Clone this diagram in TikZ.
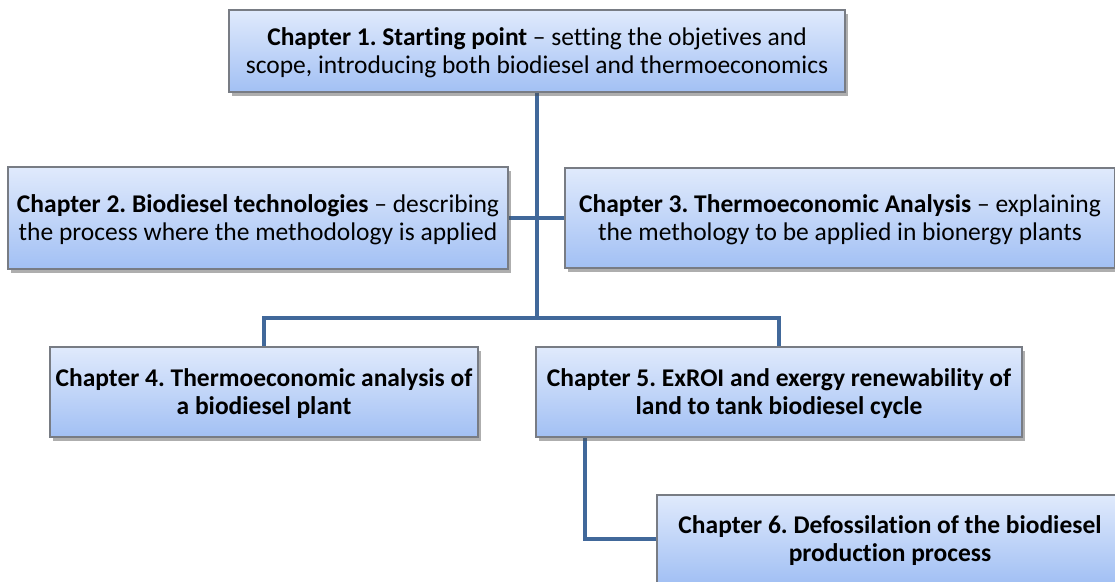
\documentclass[tikz,border=0pt]{standalone}
\usepackage{fontspec}
\setmainfont[Ligatures=NoCommon]{Carlito}
\usetikzlibrary{shadows,backgrounds}
\definecolor{boxtop}{RGB}{224,234,252}
\definecolor{boxbot}{RGB}{162,192,244}
\definecolor{boxedge}{RGB}{120,124,132}
\definecolor{link}{RGB}{65,104,154}
% two centred lines, set a little below the middle of the box
\newcommand{\twolines}[2]{\raisebox{-2.5pt}[\height][\depth]{\begin{tabular}{@{}c@{}}#1\\#2\end{tabular}}}
\tikzset{
  chapbox/.style={draw=boxedge, line width=1.2pt, top color=boxtop, bottom color=boxbot,
    inner sep=0pt, font=\fontsize{25.5}{28}\selectfont,
    drop shadow={shadow xshift=3pt, shadow yshift=-3.5pt, opacity=0.45, fill=black!70}},
  linkline/.style={draw=link, line width=4pt}
}
\frenchspacing
\begin{document}
\begin{tikzpicture}[x=1pt,y=-1pt]
\useasboundingbox (0,0) rectangle (1115,581);
\clip (0,0) rectangle (1115,581);

\node[chapbox, minimum width=616pt, minimum height=82pt] (b1) at (537,51)
  {\twolines{\textbf{Chapter 1. Starting point} -- setting the objetives and}{scope, introducing both biodiesel and thermoeconomics}};
\node[chapbox, minimum width=500pt, minimum height=102pt] (b2) at (258,218)
  {\twolines{\textbf{Chapter 2. Biodiesel technologies} -- describing}{the process where the methodology is applied}};
\node[chapbox, minimum width=550pt, minimum height=100pt] (b3) at (840,218)
  {\twolines{\textbf{Chapter 3. Thermoeconomic Analysis} -- explaining}{the methology to be applied in bionergy plants}};
\node[chapbox, minimum width=428pt, minimum height=90pt] (b4) at (264,392)
  {\twolines{\textbf{Chapter 4. Thermoeconomic analysis of}}{\textbf{a biodiesel plant}}};
\node[chapbox, minimum width=486pt, minimum height=90pt] (b5) at (779,392)
  {\twolines{\textbf{Chapter 5. ExROI and exergy renewability of}}{\textbf{land to tank biodiesel cycle}}};
\node[chapbox, minimum width=466pt, minimum height=88pt] (b6) at (890,539)
  {\twolines{\textbf{Chapter 6. Defossilation of the biodiesel}}{\textbf{production process}}};

\coordinate (j) at (537,318);
\coordinate (k) at (585,437);

\begin{scope}[on background layer]
  \draw[linkline] (b1.south) -- (j);
  \draw[linkline] (b2.east) -- (b3.west);
  \draw[linkline, line join=miter] (b4.north) |- (j) -| (b5.north);
  \draw[linkline, line join=miter] (k) |- (b6.west);
\end{scope}
\end{tikzpicture}
\end{document}
